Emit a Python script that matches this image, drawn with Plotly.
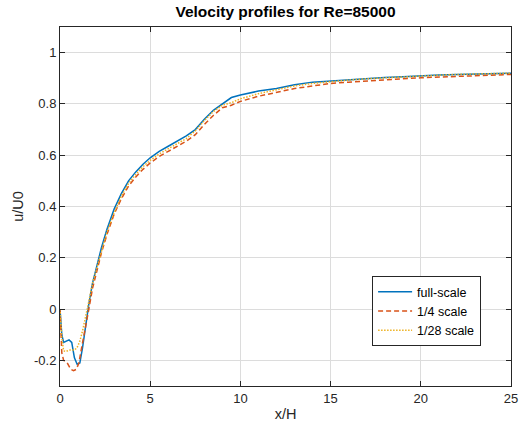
import plotly.graph_objects as go

# full-scale
x_full = [0, 0.1, 0.2, 0.35, 0.5, 0.65, 0.8, 0.95, 1.1, 1.25, 1.4, 1.6, 1.8, 2.0, 2.3, 2.6, 3.0, 3.4, 3.8,
          4.2, 4.6, 5.0, 5.5, 6.0, 6.5, 7.0, 7.5, 8.0, 8.5, 9.0, 9.5, 10, 11, 12, 13, 14, 15, 16, 17, 18,
          19, 20, 21, 22, 23, 24, 25]
y_full = [0, -0.10, -0.13, -0.125, -0.12, -0.13, -0.19, -0.215, -0.21, -0.15, -0.07, 0.02, 0.10, 0.16,
          0.24, 0.31, 0.39, 0.45, 0.50, 0.535, 0.565, 0.59, 0.615, 0.635, 0.655, 0.675, 0.70, 0.74, 0.775,
          0.80, 0.825, 0.835, 0.85, 0.86, 0.875, 0.885, 0.89, 0.895, 0.90, 0.903, 0.906, 0.91, 0.913,
          0.915, 0.917, 0.918, 0.92]

# 1/4 scale
x_q = [0, 0.1, 0.2, 0.4, 0.6, 0.75, 0.9, 1.05, 1.2, 1.4, 1.6, 1.8, 2.0, 2.3, 2.6, 3.0, 3.4, 3.8, 4.2,
       4.6, 5.0, 5.5, 6.0, 6.5, 7.0, 7.5, 8.0, 8.5, 9.0, 9.5, 10, 11, 12, 13, 14, 15, 16, 17, 18, 19,
       20, 21, 22, 23, 24, 25]
y_q = [0, -0.17, -0.20, -0.21, -0.235, -0.24, -0.235, -0.21, -0.15, -0.08, 0.0, 0.08, 0.14, 0.22,
       0.29, 0.37, 0.43, 0.48, 0.515, 0.545, 0.57, 0.595, 0.615, 0.635, 0.655, 0.68, 0.72, 0.755,
       0.785, 0.795, 0.81, 0.83, 0.845, 0.86, 0.87, 0.88, 0.885, 0.89, 0.895, 0.898, 0.902, 0.905,
       0.908, 0.91, 0.912, 0.915]

# 1/28 scale
x_28 = [0, 0.1, 0.2, 0.35, 0.5, 0.65, 0.8, 0.95, 1.1, 1.25, 1.4, 1.6, 1.8, 2.0, 2.3, 2.6, 3.0, 3.4, 3.8,
        4.2, 4.6, 5.0, 5.5, 6.0, 6.5, 7.0, 7.5, 8.0, 8.5, 9.0, 9.5, 10, 11, 12, 13, 14, 15, 16, 17, 18,
        19, 20, 21, 22, 23, 24, 25]
y_28 = [0, -0.11, -0.163, -0.165, -0.16, -0.16, -0.16, -0.15, -0.125, -0.085, -0.04, 0.03, 0.10, 0.15,
        0.23, 0.30, 0.375, 0.44, 0.49, 0.525, 0.555, 0.58, 0.605, 0.625, 0.645, 0.665, 0.695, 0.735,
        0.77, 0.795, 0.805, 0.82, 0.84, 0.855, 0.87, 0.88, 0.887, 0.893, 0.898, 0.902, 0.906, 0.91,
        0.912, 0.915, 0.917, 0.918, 0.92]

x_ticks = [0, 5, 10, 15, 20, 25]
y_ticks = [-0.2, 0, 0.2, 0.4, 0.6, 0.8, 1]
y_tick_text = ["-0.2", "0", "0.2", "0.4", "0.6", "0.8", "1"]

FONT = "Liberation Sans, Arial"
L, R = 60, 9

fig = go.Figure()
fig.add_trace(go.Scatter(x=x_full, y=y_full, mode="lines", name="full-scale",
                         line=dict(color="#0072BD", width=1.5)))
fig.add_trace(go.Scatter(x=x_q, y=y_q, mode="lines", name="1/4 scale",
                         line=dict(color="#D95319", width=1.5, dash="5px,3px")))
fig.add_trace(go.Scatter(x=x_28, y=y_28, mode="lines", name="1/28 scale",
                         line=dict(color="#EDB120", width=1.5, dash="1.5px,1.5px")))

axis_common = dict(showgrid=True, gridcolor="#dcdcdc", gridwidth=1, zeroline=False,
                   showline=True, linecolor="#262626", linewidth=1, mirror="ticks",
                   ticks="inside", ticklen=5, tickcolor="#262626",
                   ticklabeloverflow="allow", automargin=False,
                   tickfont=dict(family=FONT, size=13, color="#262626"))

fig.update_layout(
    width=520, height=427,
    margin=dict(l=L, r=R, t=27, b=41, autoexpand=False),
    paper_bgcolor="white", plot_bgcolor="white",
    title=dict(text="<b>Velocity profiles for Re=85000</b>", x=(L + 520 - R) / 2 / 520, xanchor="center",
               y=1 - 12 / 427, yanchor="middle",
               font=dict(family=FONT, size=15.5, color="black")),
    xaxis=dict(range=[0, 25], tickvals=x_ticks,
               title=dict(text="x/H", standoff=4,
                          font=dict(family=FONT, size=14.5, color="#262626")),
               **axis_common),
    yaxis=dict(range=[-0.3, 1.1], tickvals=y_ticks, ticktext=y_tick_text,
               title=dict(text="u/U0", standoff=6,
                          font=dict(family=FONT, size=14.5, color="#262626")),
               **axis_common),
    legend=dict(x=0.692, y=0.306, xanchor="left", yanchor="top",
                bgcolor="white", bordercolor="#262626", borderwidth=1,
                font=dict(family=FONT, size=12.5, color="black"),
                tracegroupgap=0, itemwidth=34),
    showlegend=True,
)

fig.write_html("out.html")
